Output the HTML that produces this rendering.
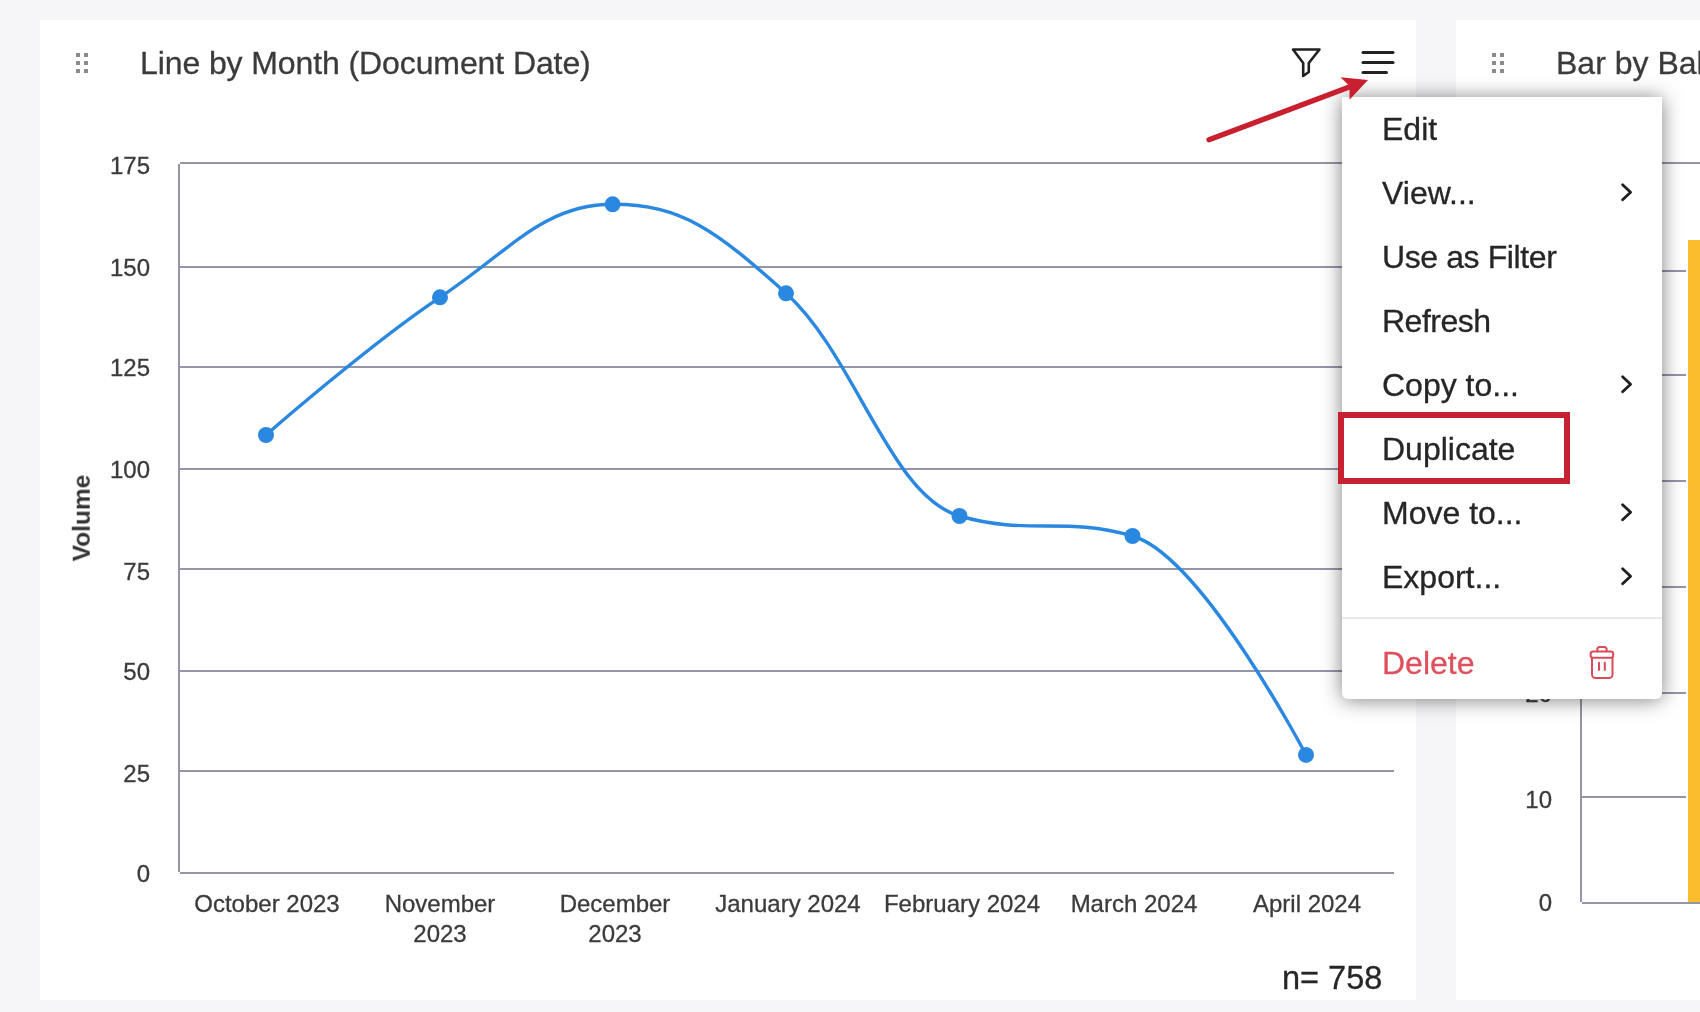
<!DOCTYPE html>
<html><head><meta charset="utf-8">
<style>
html,body{margin:0;padding:0;}
body{width:1700px;height:1012px;overflow:hidden;position:relative;background:#f6f6f8;font-family:"Liberation Sans",sans-serif;}
.card{position:absolute;top:20px;height:980px;background:#fff;}
.t{position:absolute;white-space:pre;line-height:1;will-change:transform;-webkit-text-stroke:0.3px currentColor;}
.title{font-size:32px;color:#3b3b3b;}
.ylab{font-size:24px;color:#3b3b3b;text-align:right;width:60px;}
.xlab{font-size:24px;color:#3b3b3b;text-align:center;width:180px;line-height:30px;}
.menu{position:absolute;left:1342px;top:97px;width:320px;height:602px;background:#fff;border-radius:0 0 6px 6px;box-shadow:0 1px 20px rgba(0,0,0,0.5);}
.mi{font-size:32px;color:#262626;}
svg{position:absolute;left:0;top:0;}
</style></head>
<body>
<div class="card" style="left:40px;width:1376px;"></div>
<div class="card" style="left:1456px;width:300px;"></div>

<svg width="1700" height="1012" viewBox="0 0 1700 1012">
  <!-- drag handles -->
  <g fill="#8a8a8a">
    <rect x="76" y="53" width="4" height="4"/><rect x="84" y="53" width="4" height="4"/>
    <rect x="76" y="61" width="4" height="4"/><rect x="84" y="61" width="4" height="4"/>
    <rect x="76" y="69" width="4" height="4"/><rect x="84" y="69" width="4" height="4"/>
    <rect x="1492" y="53" width="4" height="4"/><rect x="1500" y="53" width="4" height="4"/>
    <rect x="1492" y="61" width="4" height="4"/><rect x="1500" y="61" width="4" height="4"/>
    <rect x="1492" y="69" width="4" height="4"/><rect x="1500" y="69" width="4" height="4"/>
  </g>
  <!-- left chart grid -->
  <g fill="#9494aa">
    <rect x="180" y="162" width="1214" height="2"/>
    <rect x="180" y="266" width="1214" height="2"/>
    <rect x="180" y="366" width="1214" height="2"/>
    <rect x="180" y="468" width="1214" height="2"/>
    <rect x="180" y="568" width="1214" height="2"/>
    <rect x="180" y="670" width="1214" height="2"/>
    <rect x="180" y="770" width="1214" height="2"/>
    <rect x="180" y="872" width="1214" height="2"/>
    <rect x="178" y="164" width="2" height="708"/>
  </g>
  <!-- right chart grid -->
  <g fill="#9494aa">
    <rect x="1582" y="162" width="118" height="2"/>
    <rect x="1582" y="270" width="104" height="2"/>
    <rect x="1582" y="374" width="104" height="2"/>
    <rect x="1582" y="480" width="104" height="2"/>
    <rect x="1582" y="586" width="104" height="2"/>
    <rect x="1582" y="692" width="104" height="2"/>
    <rect x="1582" y="796" width="104" height="2"/>
    <rect x="1582" y="902" width="118" height="2"/>
    <rect x="1580" y="164" width="2" height="738"/>
  </g>
  <rect x="1688" y="240" width="20" height="662" fill="#fbbc2d"/>
  <!-- spline -->
  <path d="M 266.00 435.00 C 266.00 435.00 370.40 343.63 440.00 297.30 C 509.04 251.35 543.56 204.30 612.60 204.30 C 681.96 204.30 716.64 230.98 786.00 293.30 C 855.40 355.66 890.10 496.00 959.50 516.00 C 1028.70 536.00 1063.30 516.00 1132.50 536.00 C 1201.90 556.00 1306.00 754.90 1306.00 754.90" fill="none" stroke="#2b88e0" stroke-width="3.4"/>
  <g fill="#2b88e0">
    <circle cx="266" cy="435" r="8"/><circle cx="440" cy="297.3" r="8"/><circle cx="612.6" cy="204.3" r="8"/>
    <circle cx="786" cy="293.3" r="8"/><circle cx="959.5" cy="516" r="8"/><circle cx="1132.5" cy="536" r="8"/>
    <circle cx="1306" cy="754.9" r="8"/>
  </g>
  <!-- filter icon -->
  <path d="M1293 49.5 L1319.5 49.5 L1308.8 63 L1308.8 72 L1303.2 76 L1303.2 63 Z" fill="none" stroke="#222" stroke-width="2.6" stroke-linejoin="round"/>
  <!-- hamburger -->
  <g stroke="#222" stroke-width="3" stroke-linecap="round">
    <line x1="1363" y1="52.5" x2="1393" y2="52.5"/>
    <line x1="1363" y1="62.5" x2="1393" y2="62.5"/>
    <line x1="1363" y1="72.5" x2="1386.5" y2="72.5"/>
  </g>
</svg>

<div class="t title" style="left:140px;top:47px;letter-spacing:-0.1px;">Line by Month (Document Date)</div>
<div class="t title" style="left:1556px;top:47px;">Bar by Baker</div>

<!-- left y labels -->
<div class="t ylab" style="left:90px;top:154px;">175</div>
<div class="t ylab" style="left:90px;top:256px;">150</div>
<div class="t ylab" style="left:90px;top:356px;">125</div>
<div class="t ylab" style="left:90px;top:458px;">100</div>
<div class="t ylab" style="left:90px;top:560px;">75</div>
<div class="t ylab" style="left:90px;top:660px;">50</div>
<div class="t ylab" style="left:90px;top:762px;">25</div>
<div class="t ylab" style="left:90px;top:862px;">0</div>
<div class="t" style="left:82px;top:518px;font-size:24.5px;font-weight:bold;color:#333;-webkit-text-stroke:0;transform:translate(-50%,-50%) rotate(-90deg);">Volume</div>

<!-- x labels -->
<div class="t xlab" style="left:176.5px;top:889px;">October 2023</div>
<div class="t xlab" style="left:350px;top:889px;">November<br>2023</div>
<div class="t xlab" style="left:524.5px;top:889px;">December<br>2023</div>
<div class="t xlab" style="left:697.5px;top:889px;">January 2024</div>
<div class="t xlab" style="left:871.5px;top:889px;">February 2024</div>
<div class="t xlab" style="left:1043.5px;top:889px;">March 2024</div>
<div class="t xlab" style="left:1217px;top:889px;">April 2024</div>
<div class="t title" style="left:1282px;top:962px;font-size:32.5px;color:#262626;">n= 758</div>

<!-- right y labels -->
<div class="t ylab" style="left:1492px;top:788px;">10</div>
<div class="t ylab" style="left:1492px;top:891px;">0</div>
<div class="t ylab" style="left:1492px;top:682px;">20</div>

<!-- menu -->
<div class="menu"></div>
<div class="t mi" style="left:1382px;top:113px;">Edit</div>
<div class="t mi" style="left:1382px;top:177px;">View...</div>
<div class="t mi" style="left:1382px;top:241px;letter-spacing:-0.4px;">Use as Filter</div>
<div class="t mi" style="left:1382px;top:305px;letter-spacing:-0.5px;">Refresh</div>
<div class="t mi" style="left:1382px;top:369px;">Copy to...</div>
<div class="t mi" style="left:1382px;top:433px;">Duplicate</div>
<div class="t mi" style="left:1382px;top:497px;">Move to...</div>
<div class="t mi" style="left:1382px;top:561px;">Export...</div>
<div style="position:absolute;left:1342px;top:617px;width:320px;height:2px;background:#e9e9ec;"></div>
<div class="t mi" style="left:1382px;top:647px;color:#de505d;">Delete</div>

<svg width="1700" height="1012" viewBox="0 0 1700 1012" style="pointer-events:none">
  <g fill="none" stroke="#1f1f1f" stroke-width="2.8" stroke-linecap="round" stroke-linejoin="round">
    <path d="M1622.6 184.7 L1630.6 192.2 L1622.6 199.7"/>
    <path d="M1622.6 376.7 L1630.6 384.2 L1622.6 391.7"/>
    <path d="M1622.6 504.7 L1630.6 512.2 L1622.6 519.7"/>
    <path d="M1622.6 568.7 L1630.6 576.2 L1622.6 583.7"/>
  </g>
  <!-- trash -->
  <g fill="none" stroke="#d94a5a" stroke-width="2" stroke-linecap="round" stroke-linejoin="round">
    <path d="M1597.3 651 V649.5 a2.5 2.5 0 0 1 2.5 -2.5 h4.4 a2.5 2.5 0 0 1 2.5 2.5 V651"/>
    <rect x="1590.6" y="651.4" width="22.6" height="6.4" rx="2.5"/>
    <path d="M1592 658 V674.5 a3.5 3.5 0 0 0 3.5 3.5 h13.5 a3.5 3.5 0 0 0 3.5 -3.5 V658"/>
    <line x1="1599" y1="662.8" x2="1599" y2="670"/>
    <line x1="1604.8" y1="662.8" x2="1604.8" y2="670"/>
  </g>
  <!-- highlight box -->
  <rect x="1341" y="415" width="226" height="66" fill="none" stroke="#c62232" stroke-width="6"/>
  <!-- red arrow -->
  <line x1="1209" y1="139.8" x2="1352" y2="86" stroke="#c8202f" stroke-width="5.2" stroke-linecap="round"/>
  <path d="M1368 80 L1340.5 77.3 L1349.5 86 L1349.5 99.8 Z" fill="#c8202f"/>
</svg>
</body></html>
